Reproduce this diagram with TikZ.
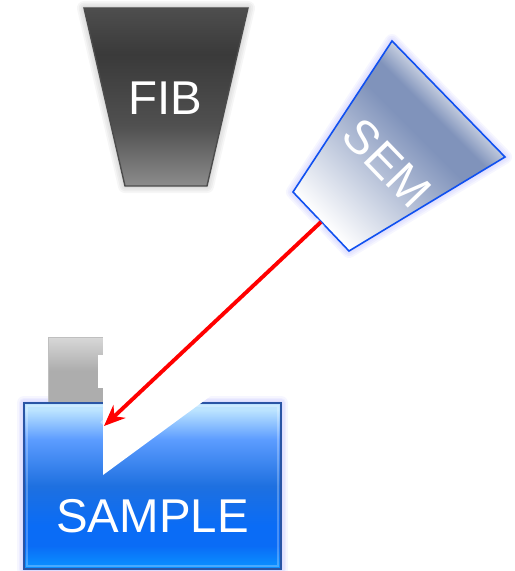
\documentclass[tikz,border=0pt]{standalone}
\usepackage{fontspec}
\usetikzlibrary{arrows.meta}
\setmainfont{Liberation Sans}
\definecolor{sampletop}{HTML}{BCE4FF}
\definecolor{samplehi}{HTML}{5C9CFF}
\definecolor{samplemid}{HTML}{1E70E0}
\definecolor{samplelow}{HTML}{0A6CF6}
\definecolor{samplebot}{HTML}{0A8EFF}
\definecolor{sampleline}{HTML}{2A55A5}
\definecolor{fibtop}{HTML}{4E4E4E}
\definecolor{fibdark}{HTML}{3A3A3A}
\definecolor{fibmid}{HTML}{505050}
\definecolor{fibbot}{HTML}{8C8C8C}
\definecolor{holdtop}{HTML}{D8D8D8}
\definecolor{holdlow}{HTML}{ADADAD}
\definecolor{semblue}{HTML}{8093BB}
\definecolor{semedge}{HTML}{CDD4E3}
\definecolor{semline}{HTML}{0F50F0}
\pgfdeclareverticalshading{samplefill}{100bp}{
	color(0bp)=(samplebot); color(26bp)=(samplebot); color(32bp)=(samplelow); color(38bp)=(samplelow); color(50bp)=(samplemid); color(64bp)=(samplehi); color(73bp)=(sampletop); color(100bp)=(sampletop)}
\pgfdeclareverticalshading{fibfill}{100bp}{
	color(0bp)=(fibbot); color(25bp)=(fibbot); color(42bp)=(fibmid); color(62bp)=(fibdark); color(75bp)=(fibtop); color(100bp)=(fibtop)}
\pgfdeclareverticalshading{holderfill}{100bp}{
	color(0bp)=(holdlow); color(25bp)=(holdlow); color(50bp)=(holdlow); color(75bp)=(holdtop); color(100bp)=(holdtop)}
\pgfdeclareverticalshading{semfill}{100bp}{
	color(0bp)=(white); color(24bp)=(white); color(55bp)=(semblue); color(61bp)=(semblue); color(67bp)=(semedge); color(100bp)=(semedge)}
\tikzset{
	glow/.style={draw=#1, line join=round, opacity=0.035, fill=none},
	label/.style={text=white, font=\fontsize{27pt}{30pt}\selectfont, inner sep=0pt}
}
\begin{document}
\begin{tikzpicture}[x=0.02cm, y=-0.02cm]
	\useasboundingbox (0,0) rectangle (514,571);
	% halos
	\foreach \w in {2,4,6,8} {
		\draw[glow=black, line width=\w pt] (84,8) -- (248,8) -- (207,186) -- (125,186) -- cycle;
		\draw[glow=blue, line width=\w pt] (392,41) -- (505,157) -- (349,251) -- (293,192) -- cycle;
		\draw[glow=blue, line width=\w pt] (24,403) rectangle (281,569);
	}
	% holder behind the sample
	\shade[shading=holderfill, draw=gray!50] (48,337) coordinate (h) rectangle (104,404);
	% sample block and its inner edge
	\shade[shading=samplefill, draw=sampleline, line width=0.8pt] (24,403) coordinate (s) rectangle (281,569);
	\draw[white, opacity=0.25, line width=0.6pt] (27,406) rectangle (278,566);
	% cut in the sample
	\fill[white] (103,336) -- (103,475) -- (212,395) -- (212,336) -- cycle;
	\fill[white] (98,355) rectangle (103,388);
	% columns
	\shade[shading=fibfill, draw=black!70, line width=0.8pt] (84,8) coordinate (a) -- (248,8) coordinate (b) -- (207,186) coordinate (c) -- (125,186) coordinate (d) -- cycle;
	\shade[shading=semfill, shading angle=-45, draw=semline, line width=0.9pt] (392,41) coordinate (e) -- (505,157) coordinate (f) -- (349,251) coordinate (g) -- (293,192) coordinate (i) -- cycle;
	\node[label] (fib) at (165,98) {FIB};
	\node[label, rotate=-46] (sem) at (387,163) {SEM};
	\node[label] (sample) at (152.5,516) {SAMPLE};
	% beam
	\coordinate (semtip) at (321,222);
	\coordinate (cuttip) at (104,426);
	\draw[white, opacity=0.4, line width=6pt] (semtip) -- (cuttip);
	\draw[-{Stealth[length=12pt,width=10pt]}, red, line width=2.2pt] (semtip) -- (cuttip);
\end{tikzpicture}
\end{document}
